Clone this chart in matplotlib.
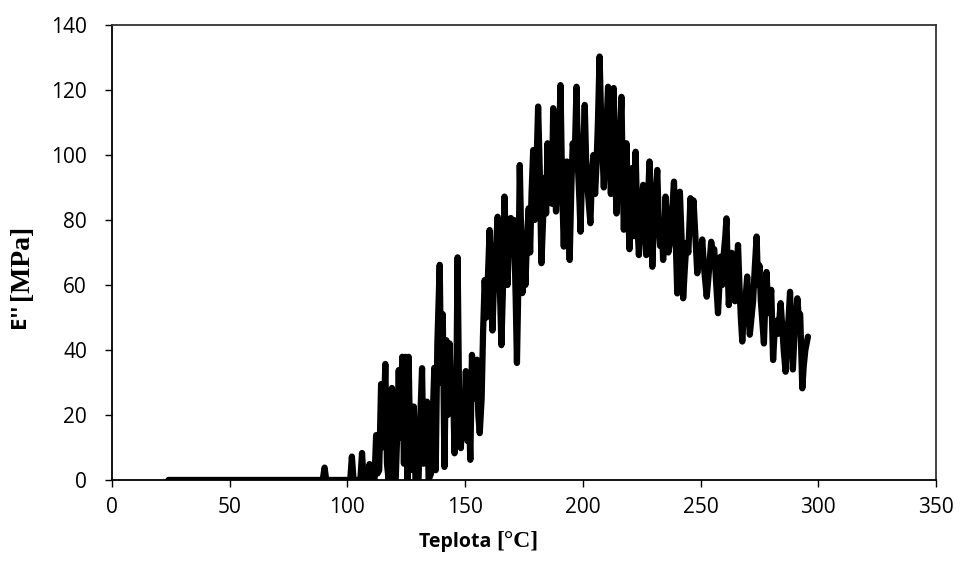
import numpy as np
import matplotlib
matplotlib.use("Agg")
import matplotlib.pyplot as plt

# teplota [°C] and E'' [MPa] (peaks/troughs)
temp_flat = [24, 89.5, 90.3, 91.0, 101.2]
emod_flat = [0, 0, 3.8, 0, 0]

temp_onset = [101.9, 102.6, 105.5, 106.2, 106.9, 108.8, 109.4, 110.0, 111.5, 112.2,
              112.8, 113.5, 114.3, 114.8, 115.5, 116.1, 116.8, 117.5, 118.2, 118.9,
              119.6, 120.5, 121.2, 121.8, 122.5, 123.3, 124.0, 124.7, 125.5, 126.0,
              126.8, 127.5, 128.2, 128.9, 130.2, 131.0, 131.7, 132.3, 133.1, 133.8,
              134.5, 135.5, 136.3, 136.9, 137.5, 138.2, 139.2, 139.8, 140.5, 141.2,
              142.0, 142.6, 143.4, 144.0, 144.8, 145.5, 146.2, 146.8, 147.5, 148.2,
              148.8, 149.5, 150.3, 151.0, 151.6, 152.2, 152.9, 153.6, 154.3, 155.0,
              155.6, 156.2, 157.0, 157.6]
emod_onset = [7.2, 0, 0, 8.3, 0, 0, 4.9, 0, 0, 13.8,
              2, 3, 29.5, 10, 20, 35.7, 5, 0, 5, 28.3,
              0, 0, 15, 33.8, 13, 37.9, 5, 37.9, 0, 37.9,
              3, 10, 22.6, 0, 0, 20, 34.4, 5, 15, 24.1,
              0, 2, 20, 34.5, 3, 42, 66.2, 30, 51, 4,
              43, 20, 42, 26, 30, 8.2, 25, 68.5, 20, 9.8,
              25, 15, 33.5, 12, 20, 6.2, 38.5, 25, 30, 37,
              20, 14.4, 25, 45]

temp_peak = [158.3, 159.0, 159.7, 160.4, 161.1, 161.6, 162.3, 163.0, 163.8, 164.5,
             165.4, 166.1, 166.7, 167.4, 168.0, 168.7, 169.4, 170.0, 170.7, 171.5,
             172.0, 172.6, 173.2, 173.8, 174.3, 175.0, 175.6, 176.3, 177.0, 177.6,
             178.2, 178.9, 179.5, 180.2, 181.0, 181.7, 182.4, 183.1, 183.7, 184.4,
             185.0, 185.6, 186.2, 186.8, 187.4, 188.0, 188.6, 189.3, 189.9, 190.5,
             191.2, 191.9, 192.5, 193.2, 193.8, 194.4, 195.1, 195.7, 196.5, 197.3,
             198.0, 198.6, 199.0, 199.7, 200.3, 200.8, 201.5, 202.2, 203.2, 203.9,
             204.5, 205.2, 205.8, 206.4, 207.1, 207.8, 208.4, 208.9, 209.5, 210.1,
             210.7, 211.3, 211.9, 212.5, 213.1, 213.7, 214.3, 215.0, 215.7, 216.4,
             217.0, 217.4, 218.0, 218.5, 219.2, 219.8, 220.4, 221.0, 221.6, 222.4]
emod_peak = [61.5, 50, 63, 76.9, 55, 46, 62, 70, 81, 66,
             41.5, 60, 87.2, 70, 60, 75, 80.6, 71, 80, 55,
             36, 60, 96.9, 75, 57.5, 70, 60, 75, 83.6, 70,
             88, 101.5, 80, 94, 114.9, 95, 66.7, 80, 93, 82,
             103.6, 88, 94, 85, 114.4, 93, 82.6, 95, 104, 121.5,
             90, 71.8, 90, 98, 80, 67.7, 90, 103.6, 98, 121,
             95, 85, 76.4, 95, 105, 115.4, 95, 88, 79, 95,
             100, 88, 97, 110, 130.3, 110, 100, 90, 103, 110,
             121, 100, 88, 103, 120.6, 95, 82, 94, 105, 117.9,
             90, 77, 90, 103.6, 85, 71, 90, 96, 75, 101]

temp_decay = [223.1, 223.8, 224.5, 225.6, 226.3, 226.9, 227.6, 228.3, 229.0, 229.5,
              230.2, 230.9, 231.6, 232.2, 232.8, 233.5, 234.1, 234.6, 235.1, 235.7,
              236.3, 237.0, 237.7, 238.7, 239.4, 240.1, 240.7, 241.2, 241.9, 242.6,
              243.3, 244.0, 244.8, 245.7, 246.4, 247.0, 247.8, 248.6, 249.3, 250.0,
              250.7, 251.5, 252.6, 253.3, 254.5, 255.2, 255.8, 256.5, 257.4, 258.0,
              258.5, 259.2, 259.9, 260.5, 261.0, 261.5, 262.0, 262.6, 263.2, 263.9,
              264.6, 265.3, 265.9, 266.5, 267.1, 267.7, 268.3, 269.0, 269.8, 270.3,
              270.9, 271.6, 272.3, 273.0, 273.8, 274.4, 275.0, 275.6, 276.3, 276.9,
              277.5, 278.0, 278.6, 279.2, 280.0, 280.8, 281.4, 282.2, 283.0, 284.0,
              284.6, 285.3, 286.1, 286.8, 287.4, 288.0, 288.6, 289.2, 289.9, 290.5,
              291.1, 291.7, 292.3, 293.2, 293.8, 294.5, 295.6]
emod_decay = [80, 69.2, 80, 90.8, 80, 69.2, 85, 98, 80, 65.6,
              80, 88, 95.4, 80, 72, 78, 67.7, 75, 87.2, 80,
              70, 73, 80, 91.8, 75, 57.4, 70, 88.7, 75, 55.9,
              65, 73, 70, 86.7, 80, 86, 75, 63.6, 70, 68,
              74, 65, 56.4, 62, 73.3, 70, 71, 62, 51.3, 60,
              68.7, 60, 70, 75, 80.5, 65, 53.8, 62, 69.9, 62,
              55, 65, 72.3, 60, 50, 42.6, 50, 55, 62.6, 55,
              44.7, 50, 55, 65, 74.9, 60, 66, 55, 48, 42,
              55, 64, 55, 51.3, 58.5, 36.9, 45, 49, 45, 54.4,
              48, 40, 33.3, 45, 50, 57.9, 45, 34, 45, 50,
              55.9, 50, 51, 28.2, 35, 40, 44.1]

x_ticks = [0, 50, 100, 150, 200, 250, 300, 350]
y_ticks = [0, 20, 40, 60, 80, 100, 120, 140]

teplota = np.concatenate([temp_flat, temp_onset, temp_peak, temp_decay])
e_loss = np.concatenate([emod_flat, emod_onset, emod_peak, emod_decay])

fig = plt.figure(figsize=(9.62, 5.68), dpi=100)
ax = fig.add_axes([0.1164, 0.155, 0.8566, 0.801])

ax.plot(teplota, e_loss, color="black", linewidth=4.5,
        solid_joinstyle="round", solid_capstyle="round")

ax.set_xlim(0, 350)
ax.set_ylim(0, 140)
ax.set_xticks(x_ticks)
ax.set_yticks(y_ticks)
ax.tick_params(direction="out", length=5, width=1, labelsize=15)
ax.tick_params(axis="x", pad=7)
ax.tick_params(axis="y", pad=13)
for lab in ax.get_xticklabels() + ax.get_yticklabels():
    lab.set_family("Open Sans")
for side in ["left", "bottom"]:
    ax.spines[side].set_linewidth(1.3)
for side in ["top", "right"]:
    ax.spines[side].set_linewidth(1.3)
    ax.spines[side].set_color("#333333")

# axis titles mix a sans and a serif face, like the original
fig.text(0.516, 0.037, "Teplota ", ha="right", va="baseline",
         fontsize=14, fontweight="bold", family="Open Sans")
fig.text(0.516, 0.037, "[°C]", ha="left", va="baseline",
         fontsize=17, fontweight="bold", family="Liberation Serif")
fig.text(0.022, 0.472, "E'' ", ha="center", va="top", rotation=90,
         fontsize=16, fontweight="bold", family="Open Sans")
fig.text(0.022, 0.472, "[MPa]", ha="center", va="bottom", rotation=90,
         fontsize=20, fontweight="bold", family="Liberation Serif")

fig.savefig("out.png", dpi=100)
